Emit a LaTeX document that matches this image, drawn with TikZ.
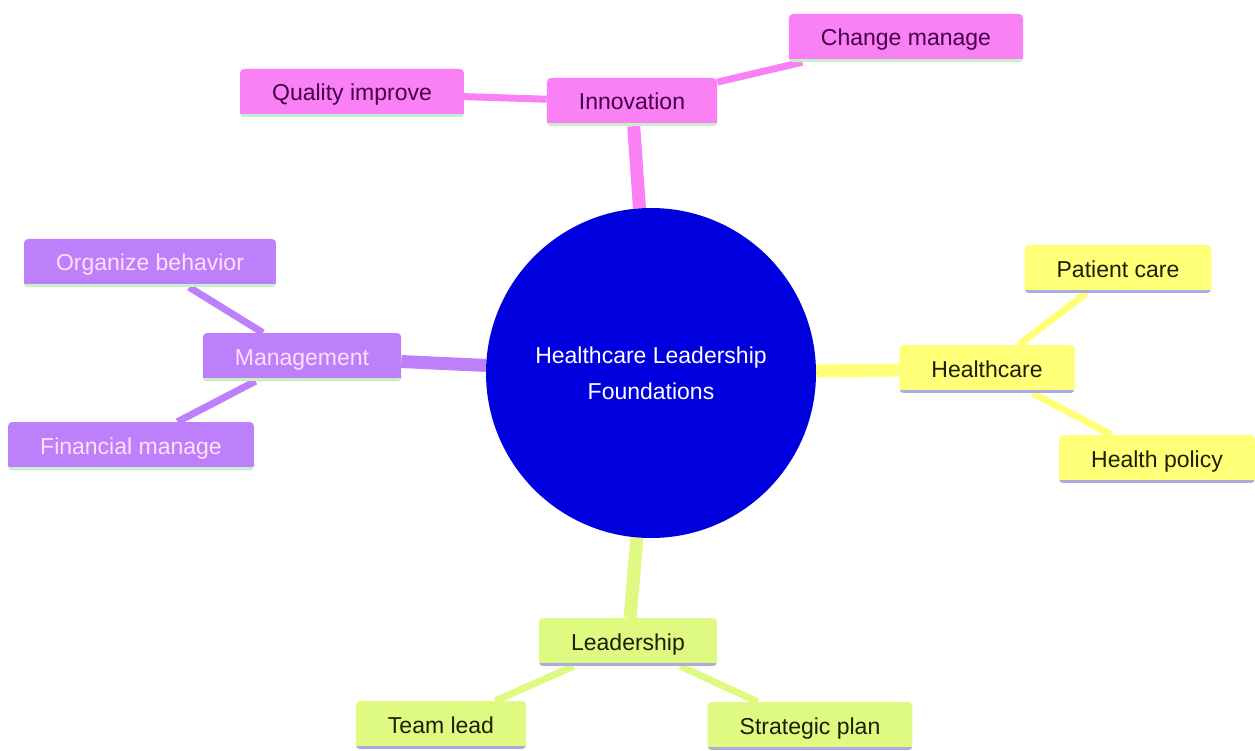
\documentclass[tikz,border=0pt]{standalone}
\usepackage{fontspec}
\setmainfont{Liberation Sans}
\usetikzlibrary{backgrounds}

\definecolor{rootblue}{RGB}{0,0,222}
\definecolor{pinkfill}{RGB}{249,128,245}
\definecolor{purplefill}{RGB}{190,128,250}
\definecolor{yellowfill}{RGB}{255,255,120}
\definecolor{limefill}{RGB}{222,250,128}
\definecolor{greenline}{RGB}{200,240,200}
\definecolor{lavline}{RGB}{170,170,228}
\definecolor{pinktext}{RGB}{70,0,70}
\definecolor{purpletext}{RGB}{255,225,255}
\definecolor{darktext}{RGB}{30,30,10}

\tikzset{
    box/.style={rounded corners=4pt, inner xsep=32pt, minimum height=48pt,
        text height=17pt, text depth=1pt,
        font=\fontsize{23}{28}\selectfont},
    boxline/.style={path picture={\draw[#1, line width=3pt]
        ([yshift=1.5pt]path picture bounding box.south west) --
        ([yshift=1.5pt]path picture bounding box.south east);}},
    pinkbox/.style={box, fill=pinkfill, text=pinktext, boxline=greenline},
    purplebox/.style={box, fill=purplefill, text=purpletext, boxline=greenline},
    yellowbox/.style={box, fill=yellowfill, text=darktext, boxline=lavline},
    limebox/.style={box, fill=limefill, text=darktext, boxline=lavline},
    trunk/.style={line width=13pt},
    twig/.style={line width=7pt}
}

\begin{document}
\begin{tikzpicture}[x=1pt, y=-1pt]
    \useasboundingbox (0,0) rectangle (1255,751);

    % Draw nodes
    \node[circle, fill=rootblue, text=white, minimum size=330pt, align=center,
        font=\fontsize{23}{36}\selectfont] (root) at (651,373)
        {Healthcare Leadership\\Foundations};

    \node[pinkbox] (innov) at (632,102) {Innovation};
    \node[pinkbox] (quality) at (352,93) {Quality improve};
    \node[pinkbox] (change) at (906,38) {Change manage};

    \node[purplebox] (manage) at (302,357) {Management};
    \node[purplebox] (organize) at (150,263) {Organize behavior};
    \node[purplebox] (finance) at (131,446) {Financial manage};

    \node[yellowbox] (health) at (987,369) {Healthcare};
    \node[yellowbox] (patient) at (1118,269) {Patient care};
    \node[yellowbox] (policy) at (1157,459) {Health policy};

    \node[limebox] (lead) at (628,642) {Leadership};
    \node[limebox] (team) at (441,725) {Team lead};
    \node[limebox] (strategy) at (810,726) {Strategic plan};

    % Draw connections
    \begin{scope}[on background layer]
        \draw[trunk, pinkfill] (root) -- (innov);
        \draw[trunk, purplefill] (root) -- (manage);
        \draw[trunk, yellowfill] (root) -- (health);
        \draw[trunk, limefill] (root) -- (lead);

        \draw[twig, pinkfill] (innov) -- (quality);
        \draw[twig, pinkfill] (innov) -- (change);
        \draw[twig, purplefill] (manage) -- (organize);
        \draw[twig, purplefill] (manage) -- (finance);
        \draw[twig, yellowfill] (health) -- (patient);
        \draw[twig, yellowfill] (health) -- (policy);
        \draw[twig, limefill] (lead) -- (team);
        \draw[twig, limefill] (lead) -- (strategy);
    \end{scope}
\end{tikzpicture}
\end{document}
